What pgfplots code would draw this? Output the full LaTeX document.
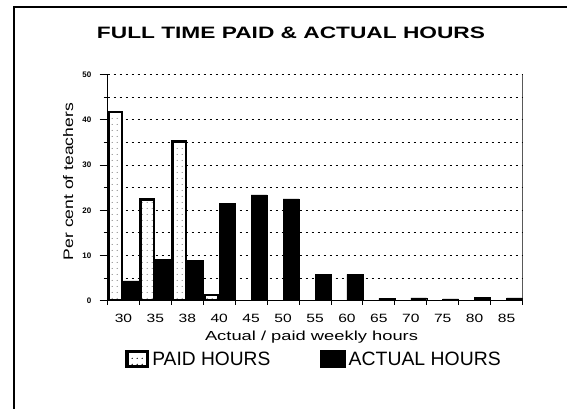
\documentclass[border=0pt]{standalone}
\usepackage{fontspec}
\setmainfont{Liberation Sans}
\usepackage{pgfplots}
\pgfplotsset{compat=1.18}
\usetikzlibrary{patterns.meta}
\tikzdeclarepattern{
  name=sparsedots,
  type=uncolored,
  bottom left={(0pt,0pt)},
  top right={(5pt,6pt)},
  tile size={(5pt,6pt)},
  code={\pgfpathcircle{\pgfpoint{2.5pt}{3pt}}{0.5pt}\pgfusepath{fill}}
}
\newcommand\tl[1]{\scalebox{1.3}[1]{#1}}
\begin{document}
\begin{tikzpicture}
\useasboundingbox (0pt,0pt) rectangle (567pt,409pt);
\begin{axis}[
  at={(107.5pt,108.3pt)}, anchor=south west,
  scale only axis, width=415pt, height=226pt,
  xmin=-0.5, xmax=12.5, ymin=0, ymax=50,
  axis x line*=bottom, axis y line*=left,
  axis line style={line width=1pt, black, -},
  xtick={0,...,12},
  xticklabels={\tl{30},\tl{35},\tl{38},\tl{40},\tl{45},\tl{50},\tl{55},\tl{60},\tl{65},\tl{70},\tl{75},\tl{80},\tl{85}},
  major x tick style={draw=none},
  minor xtick={-0.5,0.5,...,12.5},
  ytick={0,10,...,50}, minor ytick={5,15,...,45},
  tick align=outside,
  major tick length=8pt, minor tick length=4pt,
  tick style={black, line width=0.8pt},
  ymajorgrids, yminorgrids,
  major grid style={black, dash pattern=on 2.5pt off 3.5pt, line width=0.8pt},
  minor grid style={black, dash pattern=on 2.5pt off 3.5pt, line width=0.8pt},
  /pgf/number format/assume math mode=true,
  xticklabel style={font=\fontsize{12}{14}\selectfont, anchor=north, inner sep=0pt, yshift=-5pt},
  yticklabel style={font=\bfseries\fontsize{8}{9}\selectfont, anchor=east, inner sep=0pt, xshift=-8pt},
  xlabel={\resizebox{213pt}{9.5pt}{Actual / paid weekly hours}},
  xlabel style={at={(axis description cs:0.4916,-0.178)}, anchor=base, inner sep=0pt},
  ylabel={\resizebox{157pt}{10pt}{Per cent of teachers}},
  ylabel style={at={(axis description cs:-0.095,0.527)}, anchor=center, inner sep=0pt},
  legend style={at={(axis description cs:0.042,-0.258)}, anchor=west, draw=none, fill=none,
    inner sep=0pt, legend columns=2, column sep=3pt,
    /tikz/every even column/.append style={column sep=50pt},
    nodes={inner sep=0pt}},
]
\addplot[ybar, bar width=0.425, bar shift=-0.25, draw=black, line width=2.4pt, fill=white,
  postaction={pattern=sparsedots, pattern color=black},
  legend image code/.code={\draw[black, line width=2.2pt, fill=white] (0pt,-8pt) rectangle (22pt,8pt);
     \fill[pattern=sparsedots, pattern color=black] (1.1pt,-6.9pt) rectangle (20.9pt,6.9pt);}]
  coordinates {(0,41.8) (1,22.4) (2,35.2) (3,1.3)};
\addlegendentry{\resizebox{118pt}{13.5pt}{PAID HOURS}}
\addplot[ybar, bar width=0.5, bar shift=0.25, draw=black, fill=black, line width=0.4pt,
  legend image code/.code={\fill[black] (0pt,-8.5pt) rectangle (25pt,8.5pt);}]
  coordinates {(0,4.4) (1,9.2) (2,8.9) (3,21.6) (4,23.4) (5,22.5) (6,5.8) (7,5.8) (8,0.5) (9,0.6) (10,0.4) (11,0.7) (12,0.6)};
\addlegendentry{\resizebox{152pt}{13.5pt}{ACTUAL HOURS}}
\draw[black, line width=0.6pt] (rel axis cs:1,0) -- (rel axis cs:1,1);
\end{axis}
\node[inner sep=0pt] at (291pt,376pt) {\resizebox{388pt}{11.5pt}{\bfseries FULL TIME PAID \& ACTUAL HOURS}};
\draw[line width=2pt] (13.5pt,0pt) -- (13.5pt,402pt) -- (567pt,402pt);
\end{tikzpicture}
\end{document}
